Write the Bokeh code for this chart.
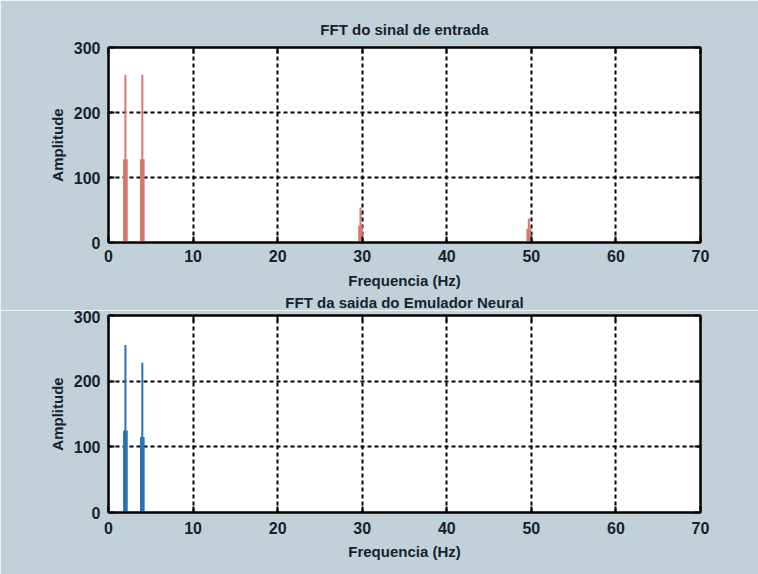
from bokeh.plotting import figure
from bokeh.layouts import column
from bokeh.models import LinearAxis, FixedTicker, Range1d, Title
from bokeh.embed import file_html
from bokeh.resources import INLINE

# data
x_ticks = [0, 10, 20, 30, 40, 50, 60, 70]
y_ticks = [0, 100, 200, 300]

freq_in = [2.0, 4.0, 29.8, 49.7]
peak_in = [258, 258, 54, 37]
side_in = [128, 128, 26, 21]

freq_out = [2.0, 4.0]
peak_out = [255, 228]
side_out = [125, 115]

title_in = "FFT do sinal de entrada"
title_out = "FFT da saida do Emulador Neural"
x_label = "Frequencia (Hz)"
y_label = "Amplitude"

BG = "#c2d1d7"
FONT = "Liberation Sans"
TXT = "#16222e"


def style_title(t, standoff):
    t.align = "center"
    t.text_font = FONT
    t.text_font_style = "bold"
    t.text_font_size = "15px"
    t.text_color = TXT
    t.standoff = standoff


def make(freq, peak, side, color, height, b_top, b_bottom,
         tick_standoff, label_standoff):
    p = figure(width=758, height=height,
               x_range=Range1d(0, 70), y_range=Range1d(0, 300),
               output_backend="svg", toolbar_location=None,
               min_border_left=108, min_border_right=58,
               min_border_top=b_top, min_border_bottom=b_bottom,
               background_fill_color="white", border_fill_color=BG,
               outline_line_color="black", outline_line_width=2)

    xa = p.below[0]
    ya = p.left[0]
    xa.ticker = FixedTicker(ticks=x_ticks)
    ya.ticker = FixedTicker(ticks=y_ticks)
    for ax in (xa, ya):
        ax.major_tick_in = 6
        ax.major_tick_out = 0
        ax.minor_tick_in = 0
        ax.minor_tick_out = 0
        ax.axis_line_color = "black"
        ax.axis_line_width = 2
        ax.major_tick_line_width = 2
        ax.major_label_text_font = FONT
        ax.major_label_text_font_style = "bold"
        ax.major_label_text_font_size = "16px"
        ax.major_label_text_color = TXT
        ax.axis_label_text_font = FONT
        ax.axis_label_text_font_style = "bold"
        ax.axis_label_text_font_size = "15px"
        ax.axis_label_text_color = TXT
    xa.axis_label = x_label
    xa.major_label_standoff = tick_standoff
    xa.axis_label_standoff = label_standoff
    ya.axis_label = y_label
    ya.major_label_standoff = 8
    ya.axis_label_standoff = 5

    for side_name in ("above", "right"):
        ax = LinearAxis(ticker=FixedTicker(ticks=x_ticks if side_name == "above" else y_ticks))
        ax.major_tick_in = 6
        ax.major_tick_out = 0
        ax.minor_tick_in = 0
        ax.minor_tick_out = 0
        ax.major_tick_line_width = 2
        ax.axis_line_color = "black"
        ax.axis_line_width = 2
        ax.major_label_text_alpha = 0
        ax.major_label_text_font_size = "1px"
        ax.major_label_standoff = 0
        p.add_layout(ax, side_name)

    p.xgrid.ticker = FixedTicker(ticks=[10, 20, 30, 40, 50, 60])
    p.ygrid.ticker = FixedTicker(ticks=[100, 200])
    for g in (p.xgrid[0], p.ygrid[0]):
        g.grid_line_color = "black"
        g.grid_line_dash = "4 3"
        g.grid_line_width = 2
        g.grid_line_alpha = 1

    p.vbar(x=freq, top=side, bottom=0, width=0.55, color=color, line_width=0)
    p.segment(x0=freq, y0=[0] * len(freq), x1=freq, y1=peak,
              line_color=color, line_width=2)
    return p


# top panel (frame 47..243); its lower border also carries the second title
p1 = make(freq_in, peak_in, side_in, "#d8776d", 310, 47, 67, 7, 7)
p1.title.text = title_in
style_title(p1.title, 19)
t2 = Title(text=title_out)
style_title(t2, 0)
p1.add_layout(t2, "below")

# bottom panel (frame 315..512)
p2 = make(freq_out, peak_out, side_out, "#2a72b8", 264, 5, 62, 9, 6)

layout = column(p1, p2, spacing=0)
open("out.html", "w").write(file_html(layout, INLINE))
